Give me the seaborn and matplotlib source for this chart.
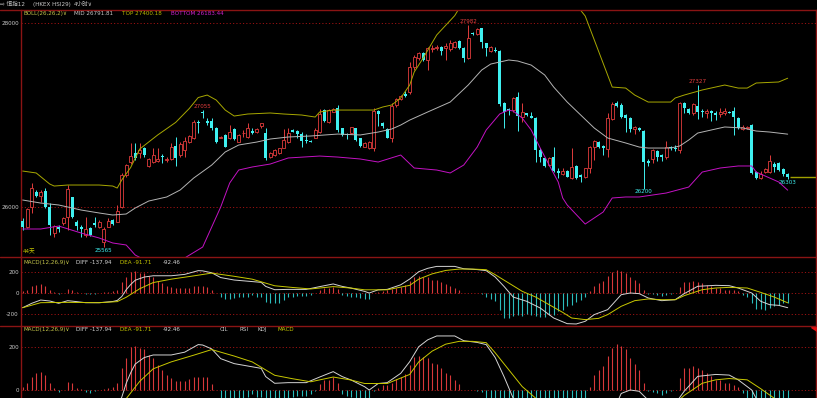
import numpy as np
import pandas as pd
import matplotlib
matplotlib.use("Agg")
import matplotlib.pyplot as plt
from matplotlib.lines import Line2D
from matplotlib.patches import Polygon
import seaborn as sns

# ---------------- data ----------------
open_ = [25848, 25779, 26000, 26167, 26120, 26174, 26004, 25714, 25787, 25823,
         25895, 26105, 25841, 25787, 25700, 25776, 25830, 25779, 25620, 25787,
         25859, 25841, 26000, 26348, 26493, 26591, 26584, 26645, 26446, 26493,
         26500, 26558, 26511, 26522, 26663, 26565, 26620, 26710, 26747, 26928,
         27036, 26939, 26935, 26862, 26754, 26783, 26747, 26848, 26710, 26801,
         26765, 26830, 26819, 26884, 26801, 26547, 26565, 26583, 26645, 26710,
         26837, 26826, 26797, 26732, 26721, 26754, 26819, 27055, 26928, 27036,
         27080, 26855, 26797, 26801, 26855, 26746, 26656, 26638, 26638, 27047,
         26910, 26848, 26746, 27109, 27174, 27229, 27247, 27525, 27623, 27678,
         27598, 27718, 27725, 27743, 27725, 27714, 27743, 27804, 27732, 27616,
         27888, 27880, 27942, 27779, 27696, 27707, 27696, 27127, 27065, 27055,
         27200, 26982, 27018, 26993, 26971, 26620, 26529, 26457, 26547, 26395,
         26359, 26391, 26312, 26446, 26348, 26323, 26420, 26656, 26710, 26663,
         26627, 26953, 27127, 27109, 27000, 26964, 26844, 26859, 26830, 26504,
         26518, 26609, 26565, 26540, 26656, 26645, 26620, 27134, 27062, 27018,
         27102, 27047, 27018, 27040, 27025, 27011, 27018, 27036, 27043, 26971,
         26852, 26855, 26891, 26384, 26316, 26384, 26384, 26464, 26475, 26409,
         26359]
close = [25779, 25978, 26203, 26120, 26167, 25997, 25805, 25794, 25758, 25884,
         26192, 25895, 25794, 25758, 25765, 25696, 25805, 25841, 25765, 25852,
         25812, 25960, 26348, 26457, 26555, 26536, 26620, 26565, 26518, 26565,
         26522, 26540, 26525, 26649, 26529, 26685, 26721, 26772, 26928, 26910,
         27018, 26910, 26855, 26710, 26765, 26656, 26812, 26739, 26783, 26805,
         26855, 26801, 26844, 26910, 26536, 26583, 26620, 26638, 26728, 26801,
         26819, 26790, 26718, 26718, 26710, 26837, 27007, 26935, 27055, 27065,
         26837, 26783, 26783, 26866, 26728, 26663, 26700, 26710, 27044, 27007,
         26881, 26754, 27098, 27171, 27207, 27207, 27525, 27634, 27670, 27598,
         27725, 27725, 27743, 27699, 27750, 27779, 27790, 27725, 27616, 27841,
         27877, 27935, 27797, 27725, 27739, 27696, 27116, 27029, 27055, 27189,
         26989, 27029, 27000, 26971, 26620, 26547, 26449, 26529, 26395, 26366,
         26395, 26330, 26439, 26312, 26323, 26420, 26656, 26718, 26649, 26645,
         26964, 27116, 27102, 26982, 26964, 26844, 26866, 26841, 26486, 26475,
         26620, 26540, 26540, 26656, 26638, 26627, 27127, 27073, 27025, 27116,
         27036, 27029, 27047, 27025, 27000, 27033, 27047, 27025, 26975, 26855,
         26873, 26873, 26373, 26312, 26359, 26409, 26500, 26439, 26402, 26355,
         26330]
high = [25877, 25993, 26258, 26185, 26185, 26203, 26040, 25805, 25805, 25895,
        26240, 26113, 25859, 25805, 25895, 25787, 25888, 25859, 25779, 25877,
        25866, 26022, 26366, 26468, 26692, 26700, 26692, 26656, 26529, 26638,
        26638, 26576, 26547, 26700, 26765, 26710, 26758, 26783, 26946, 26946,
        27055, 26964, 26964, 26873, 26775, 26790, 26892, 26855, 26790, 26837,
        26910, 26855, 26855, 26915, 26855, 26594, 26631, 26645, 26848, 26855,
        26844, 26837, 26819, 26790, 26728, 26855, 27062, 27065, 27065, 27073,
        27109, 26862, 26804, 26873, 26862, 26754, 26710, 26721, 27073, 27055,
        26921, 26855, 27127, 27181, 27218, 27261, 27580, 27652, 27681, 27688,
        27743, 27761, 27761, 27754, 27779, 27815, 27804, 27815, 27743, 27982,
        27906, 27949, 27949, 27786, 27750, 27743, 27703, 27138, 27073, 27200,
        27247, 27127, 27025, 27036, 26982, 26638, 26536, 26547, 26656, 26420,
        26420, 26402, 26638, 26457, 26355, 26428, 26667, 26728, 26718, 26674,
        27018, 27145, 27156, 27127, 27011, 26975, 26881, 26873, 26837, 26518,
        26627, 26620, 26576, 26721, 26663, 26674, 27145, 27145, 27073, 27127,
        27327, 27062, 27062, 27054, 27047, 27073, 27073, 27047, 27083, 26982,
        26891, 26884, 26902, 26395, 26395, 26420, 26565, 26493, 26493, 26420,
        26373]
low = [25750, 25768, 25939, 26113, 26058, 25986, 25696, 25671, 25732, 25805,
       25750, 25877, 25750, 25678, 25678, 25689, 25787, 25768, 25565, 25779,
       25805, 25834, 25986, 26323, 26468, 26511, 26529, 26547, 26432, 26482,
       26493, 26482, 26493, 26511, 26446, 26547, 26547, 26692, 26736, 26801,
       26964, 26892, 26837, 26692, 26746, 26649, 26739, 26729, 26703, 26765,
       26754, 26790, 26801, 26862, 26511, 26536, 26555, 26573, 26638, 26692,
       26812, 26746, 26656, 26692, 26703, 26746, 26801, 26921, 26917, 27029,
       26819, 26775, 26739, 26794, 26718, 26656, 26649, 26627, 26609, 26881,
       26855, 26746, 26710, 27091, 27163, 27200, 27225, 27489, 27598, 27591,
       27489, 27688, 27707, 27652, 27598, 27696, 27725, 27718, 27580, 27609,
       27870, 27870, 27725, 27641, 27681, 27688, 27102, 26855, 27000, 27036,
       26826, 26928, 26993, 26964, 26493, 26493, 26439, 26449, 26384, 26312,
       26348, 26323, 26305, 26305, 26268, 26312, 26366, 26511, 26638, 26565,
       26540, 26946, 27091, 26964, 26819, 26819, 26794, 26830, 26200, 26449,
       26475, 26504, 26504, 26518, 26620, 26612, 26591, 27018, 27011, 26999,
       26953, 26982, 26964, 26939, 26946, 26982, 27000, 27018, 26782, 26844,
       26837, 26844, 26359, 26301, 26305, 26366, 26373, 26384, 26395, 26337,
       26303]

macd_hist = [15, 31, 62, 77, 85, 69, 31, 8, -8, 2,
             38, 31, 8, 3, -8, -12, -5, 2, 5, 8,
             15, 31, 100, 146, 197, 203, 192, 189, 162, 146,
             116, 92, 69, 54, 43, 43, 43, 49, 62, 62,
             62, 58, 28, -2, -41, -59, -59, -50, -41, -41,
             -34, -19, -34, -34, -81, -91, -91, -91, -66, -41,
             -34, -28, -28, -28, -19, -3, 28, 44, 44, 59,
             34, -19, -28, -34, -41, -50, -59, -59, -3, 8,
             22, 25, 34, 50, 59, 72, 116, 154, 157, 151,
             146, 123, 120, 100, 80, 69, 46, 28, -2, -2,
             -2, -3, -9, -38, -56, -78, -156, -235, -235, -219,
             -203, -213, -194, -203, -213, -225, -225, -203, -203, -172,
             -156, -125, -110, -88, -63, -38, 16, 69, 94, 110,
             156, 194, 213, 203, 188, 150, 119, 94, 31, -6,
             -9, -16, -25, -16, -6, 1, 56, 100, 103, 110,
             103, 94, 78, 63, 47, 47, 31, 31, 25, 16,
             -16, -38, -94, -150, -150, -156, -141, -125, -110, -94,
             -92]

diff_idx = [0, 2, 4, 6, 8, 10, 12, 14, 17, 20, 21, 22, 23, 24, 25, 27, 29, 33, 36,
            39, 40, 42, 44, 47, 50, 53, 54, 56, 59, 63, 66, 69, 71, 73, 76, 77, 79,
            81, 84, 86, 88, 90, 92, 96, 98, 101, 103, 105, 107, 109, 112, 115, 118,
            121, 123, 125, 127, 130, 133, 135, 137, 139, 142, 145, 147, 150, 154,
            157, 159, 162, 164, 166, 168, 170]
diff_val = [-138, -97, -66, -75, -97, -72, -81, -91, -91, -80, -70, -34, 31, 80, 120,
            150, 162, 162, 175, 210, 208, 190, 145, 122, 111, 100, 62, 31, 34, 34, 60,
            85, 62, 46, 15, 0, 30, 34, 77, 131, 200, 232, 250, 250, 228, 220, 210, 150,
            60, -38, -78, -141, -235, -288, -291, -266, -203, -156, -16, 0, -6, -47,
            -72, -63, -6, 63, 72, 69, 47, 0, -78, -110, -116, -138]
dea_idx = [0, 4, 10, 17, 21, 23, 26, 29, 33, 38, 42, 47, 51, 56, 60, 64, 69, 73, 76,
           81, 86, 88, 91, 94, 97, 100, 103, 105, 108, 111, 114, 117, 120, 122, 125,
           128, 130, 133, 136, 139, 142, 145, 147, 151, 154, 157, 161, 164, 167, 170]
dea_val = [-138, -91, -88, -91, -81, -40, 40, 98, 130, 161, 187, 157, 130, 68, 52, 38,
           60, 46, 30, 30, 72, 130, 180, 212, 225, 225, 219, 172, 94, 16, -38, -110,
           -182, -235, -250, -238, -203, -125, -72, -56, -63, -63, -25, 31, 47, 53, 47,
           6, -38, -92]

top_idx = [0, 3, 6, 7, 10, 17, 20, 21, 22, 24, 26, 30, 34, 37, 39, 41, 43, 45, 47, 50,
           55, 58, 62, 65, 66, 69, 74, 78, 80, 82, 84, 86, 87, 89, 92, 96, 100, 110,
           118, 123, 125, 131, 134, 136, 139, 144, 145, 147, 151, 156, 159, 161, 163,
           168, 170]
top_val = [26391, 26370, 26250, 26228, 26239, 26239, 26228, 26206, 26293, 26430, 26630,
           26783, 26920, 27070, 27190, 27217, 27163, 27054, 26989, 27011, 27022, 27011,
           27000, 26978, 27033, 27054, 27054, 27054, 27087, 27109, 27185, 27326, 27467,
           27620, 27870, 28080, 28400, 28650, 28450, 28200, 28076, 27304, 27293, 27217,
           27141, 27141, 27185, 27217, 27272, 27326, 27293, 27293, 27348, 27359, 27400]
mid_idx = [0, 4, 8, 13, 17, 20, 23, 25, 28, 32, 35, 38, 42, 45, 48, 52, 55, 59, 64, 70,
           75, 79, 82, 84, 86, 90, 95, 99, 102, 104, 108, 110, 113, 116, 118, 121, 124,
           127, 130, 134, 137, 139, 144, 146, 148, 150, 153, 156, 160, 163, 166, 170]
mid_val = [26076, 26043, 26022, 25967, 25935, 25913, 25924, 25989, 26065, 26109, 26185,
           26315, 26456, 26598, 26674, 26706, 26739, 26761, 26772, 26793, 26783, 26815,
           26848, 26891, 26945, 27033, 27141, 27326, 27489, 27554, 27598, 27587, 27543,
           27435, 27304, 27141, 27000, 26859, 26750, 26696, 26652, 26641, 26641, 26663,
           26728, 26804, 26837, 26870, 26859, 26826, 26815, 26792]
bot_idx = [0, 4, 8, 13, 17, 20, 23, 24, 25, 28, 33, 36, 40, 44, 46, 48, 51, 55, 59, 66,
           70, 75, 79, 84, 87, 92, 95, 98, 101, 103, 106, 108, 109, 111, 113, 115, 117,
           119, 120, 121, 125, 129, 131, 134, 137, 143, 148, 151, 155, 159, 162, 163,
           168, 170]
bot_val = [25761, 25761, 25793, 25717, 25663, 25609, 25587, 25533, 25478, 25402, 25370,
           25446, 25565, 26000, 26261, 26402, 26435, 26467, 26533, 26554, 26543, 26522,
           26489, 26565, 26424, 26402, 26370, 26456, 26652, 26837, 27011, 27054, 27043,
           26967, 26837, 26641, 26456, 26272, 26098, 26022, 25815, 25946, 26098, 26109,
           26109, 26152, 26217, 26380, 26424, 26446, 26446, 26380, 26272, 26183]

price_ticks = [26000, 28000]
macd1_ticks = [-200, 0, 200]
macd2_ticks = [0, 200]
high_marks = [(40, "27055"), (99, "27982"), (150, "27327")]
low_marks = [(18, "25565"), (138, "26200"), (170, "26303")]

# ---------------- style ----------------
sns.set_theme(style="dark", rc={"axes.facecolor": "black", "figure.facecolor": "black",
                                "axes.grid": False})
plt.rcParams['font.family'] = ['DejaVu Sans', 'Noto Sans CJK SC']

RED_LINE = '#8a1414'
GRID = '#9a1212'
UP = '#e23c3c'
DOWN = '#3ff0f0'
HIST_UP = '#d8383a'
HIST_DN = '#2bbcbc'
MIDC = '#b4b4b4'
TOPC = '#a8a800'
BOTC = '#c412c4'
DIFFC = '#d4d4d4'
DEAC = '#c8c800'
TXT = '#c8c8c8'
FS = 4.1

W, H = 817, 398
fig = plt.figure(figsize=(W / 100, H / 100), dpi=100)
fig.patch.set_facecolor('black')


def px_axes(l, t, r, b):
    return fig.add_axes([l / W, 1 - b / H, (r - l) / W, (b - t) / H])


ax = px_axes(21, 9.5, 816, 256.5)
ax1 = px_axes(21, 256.5, 816, 326)
ax2 = px_axes(21, 326, 816, 398)

n = len(close)
idx = np.arange(n)
o = np.array(open_, float)
c = np.array(close, float)
hi = np.array(high, float)
lo = np.array(low, float)
up = c >= o

XL = ((21 - 22.7) / 4.5, (816 - 22.7) / 4.5)

for a, yl, ticks in [(ax, (25462, 28147), price_ticks),
                     (ax1, (-310, 343), macd1_ticks),
                     (ax2, (-37, 296), macd2_ticks)]:
    a.set_facecolor('black')
    a.set_xlim(*XL)
    a.set_ylim(*yl)
    a.set_xticks([])
    a.set_yticks(ticks)
    a.set_yticklabels([str(t) for t in ticks])
    a.tick_params(axis='y', length=0, pad=1.6, labelsize=FS, labelcolor=TXT)
    for s in ['top', 'bottom']:
        a.spines[s].set_visible(False)
    for s in ['left', 'right']:
        a.spines[s].set_color(RED_LINE)
        a.spines[s].set_linewidth(1.0)
        a.spines[s].set_visible(True)
    for t in ticks:
        a.axhline(t, color=GRID, lw=0.7, ls=(0, (1.2, 2.2)), zorder=0)
    a.grid(False)

# ---- candles ----
wick_lw = 0.7
ax.vlines(idx[~up], lo[~up], hi[~up], colors=DOWN, lw=wick_lw, zorder=2)
ax.vlines(idx[up], lo[up], np.minimum(o, c)[up], colors=UP, lw=wick_lw, zorder=2)
ax.vlines(idx[up], np.maximum(o, c)[up], hi[up], colors=UP, lw=wick_lw, zorder=2)
dn_h = np.maximum(o[~up] - c[~up], 9)
ax.bar(idx[~up], dn_h, bottom=c[~up], width=0.66, color=DOWN, linewidth=0, zorder=3)
ax.bar(idx[up], np.maximum(c[up] - o[up], 4), bottom=o[up], width=0.62,
       facecolor='black', edgecolor=UP, linewidth=0.6, zorder=3)

# ---- bollinger bands ----
sns.lineplot(x=mid_idx, y=mid_val, ax=ax, color=MIDC, lw=0.7, zorder=4)
sns.lineplot(x=top_idx, y=top_val, ax=ax, color=TOPC, lw=0.7, zorder=4)
sns.lineplot(x=bot_idx, y=bot_val, ax=ax, color=BOTC, lw=0.7, zorder=4)

# last price marker
ax.hlines(close[-1], 170.6, 176.2, colors='#a0a000', lw=1.0)

for i, s in high_marks:
    ax.annotate(s, (i, high[i]), xytext=(0, 0.6), textcoords='offset points',
                ha='center', va='bottom', fontsize=FS, color=UP)
for i, s in low_marks:
    ax.annotate(s, (i, low[i]), xytext=(0, -0.6), textcoords='offset points',
                ha='center', va='top', fontsize=FS, color=DOWN)

# ---- MACD panels ----
hist = np.array(macd_hist, float)
hcol = np.where(hist >= 0, HIST_UP, HIST_DN)
for a in (ax1, ax2):
    a.vlines(idx, 0, hist, colors=hcol, lw=0.8, zorder=2)
    sns.lineplot(x=diff_idx, y=diff_val, ax=a, color=DIFFC, lw=0.7, zorder=4)
    sns.lineplot(x=dea_idx, y=dea_val, ax=a, color=DEAC, lw=0.7, zorder=4)
    a.set_xlabel('')
    a.set_ylabel('')
ax.set_xlabel('')
ax.set_ylabel('')

# ---- separators ----
for yy in (9.5, 256.5, 326):
    fig.add_artist(Line2D([0, 1], [1 - yy / H, 1 - yy / H], transform=fig.transFigure,
                          color=RED_LINE, lw=1.0))

fig.add_artist(Polygon([[811 / W, 1 - 326.5 / H], [816.5 / W, 1 - 326.5 / H],
                        [816.5 / W, 1 - 331 / H]], closed=True, transform=fig.transFigure,
                       color='#e01010'))


def ftext(x, y, s, color, **kw):
    fig.text(x / W, 1 - y / H, s, color=color, fontsize=FS, va='center', ha='left', **kw)


# title bar
ftext(0.5, 4.6, "⇨ 恒指12", TXT)
ftext(33, 4.6, "(HKEX HSI29)", TXT)
ftext(74, 4.6, "4小时∨", TXT)

# BOLL header
ftext(23, 13.8, "BOLL(26,26,2)∨", '#c4c44a')
ftext(74, 13.8, "MID 26791.81", TXT)
ftext(122, 13.8, "TOP 27400.18", '#b8b800')
ftext(171, 13.8, "BOTTOM 26183.44", '#d222d2')
ftext(22.5, 252, "44天", '#c8c800')

# MACD headers
for yy in (262.3, 329.3):
    ftext(23, yy, "MACD(12,26,9)∨", '#c4c44a')
    ftext(76, yy, "DIFF -137.94", DIFFC)
    ftext(120, yy, "DEA -91.71", DEAC)
    ftext(162.5, yy, "-92.46", DIFFC)
ftext(220, 329.3, "CIL", TXT)
ftext(239, 329.3, "RSI", TXT)
ftext(258, 329.3, "KDJ", TXT)
ftext(278, 329.3, "MACD", DEAC)

fig.savefig("out.png", dpi=100, facecolor='black')
